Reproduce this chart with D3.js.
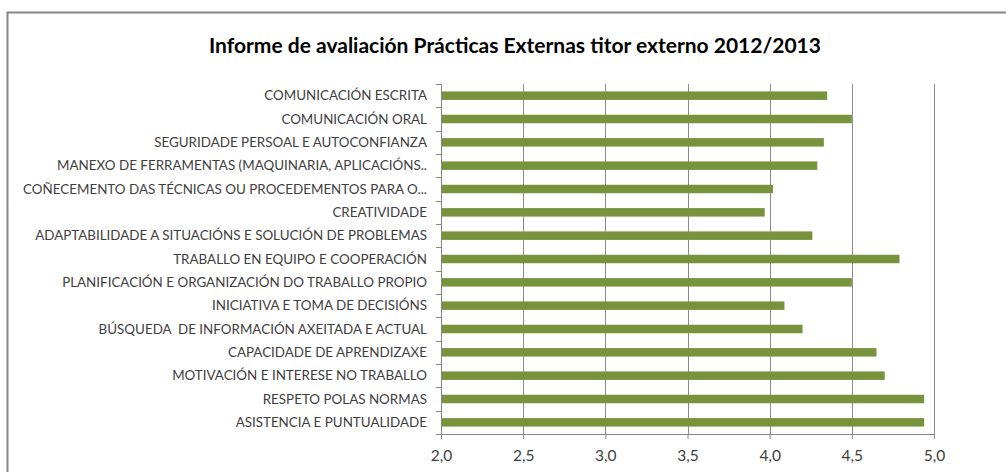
<!DOCTYPE html>
<html>
<head>
<meta charset="utf-8">
<script src="https://cdn.jsdelivr.net/npm/d3@7"></script>
<style>
  body { margin: 0; background: #fff; }
  svg { display: block; }
</style>
</head>
<body>
<div id="chart"></div>
<script>
// Data
const title = 'Informe de avaliación Prácticas Externas titor externo 2012/2013';
const categories = [
    'COMUNICACIÓN ESCRITA',
    'COMUNICACIÓN ORAL',
    'SEGURIDADE PERSOAL E AUTOCONFIANZA',
    'MANEXO DE FERRAMENTAS (MAQUINARIA, APLICACIÓNS..',
    'COÑECEMENTO DAS TÉCNICAS OU PROCEDEMENTOS PARA O...',
    'CREATIVIDADE',
    'ADAPTABILIDADE A SITUACIÓNS E SOLUCIÓN DE PROBLEMAS',
    'TRABALLO EN EQUIPO E COOPERACIÓN',
    'PLANIFICACIÓN E ORGANIZACIÓN DO TRABALLO PROPIO',
    'INICIATIVA E TOMA DE DECISIÓNS',
    'BÚSQUEDA  DE INFORMACIÓN AXEITADA E ACTUAL',
    'CAPACIDADE DE APRENDIZAXE',
    'MOTIVACIÓN E INTERESE NO TRABALLO',
    'RESPETO POLAS NORMAS',
    'ASISTENCIA E PUNTUALIDADE'
];
const values = [4.35, 4.50, 4.33, 4.29, 4.02, 3.97, 4.26, 4.79, 4.50, 4.09, 4.20, 4.65, 4.70, 4.94, 4.94];
const xTicks = [2.0, 2.5, 3.0, 3.5, 4.0, 4.5, 5.0];

// Layout
const width = 1006;
const height = 472;
const plot = { left: 441, right: 934, top: 84, bottom: 434 };
const font = 'Lato, "Open Sans", sans-serif';

const svg = d3.select('#chart')
    .append('svg')
    .attr('width', width)
    .attr('height', height);

// Chart frame (cut off at right and bottom like the screenshot)
svg.append('rect')
    .attr('x', 7.5)
    .attr('y', 12.5)
    .attr('width', width + 20)
    .attr('height', height + 20)
    .attr('fill', 'none')
    .attr('stroke', '#868686')
    .attr('stroke-width', 2);

// Title
svg.append('text')
    .attr('x', 515)
    .attr('y', 53)
    .attr('text-anchor', 'middle')
    .attr('font-family', font)
    .attr('font-weight', 'bold')
    .attr('font-size', '21px')
    .attr('fill', '#000')
    .text(title);

// Scales
const x = d3.scaleLinear()
    .domain([2, 5])
    .range([plot.left, plot.right]);

const y = d3.scaleBand()
    .domain(categories)
    .range([plot.top, plot.bottom])
    .paddingInner(0.636)
    .paddingOuter(0.318);

// Gridlines
svg.append('g')
    .selectAll('line')
    .data(xTicks.slice(1))
    .enter()
    .append('line')
    .attr('x1', d => Math.round(x(d)) + 0.5)
    .attr('x2', d => Math.round(x(d)) + 0.5)
    .attr('y1', plot.top)
    .attr('y2', plot.bottom)
    .attr('stroke', '#8c8c8c')
    .attr('stroke-width', 1);

// Bars
svg.append('g')
    .selectAll('rect')
    .data(values)
    .enter()
    .append('rect')
    .attr('x', x(2))
    .attr('y', (d, i) => y(categories[i]))
    .attr('width', d => x(d) - x(2))
    .attr('height', y.bandwidth())
    .attr('fill', '#77933c');

// X axis
const xAxis = d3.axisBottom(x)
    .tickValues(xTicks)
    .tickFormat(d => d3.format('.1f')(d).replace('.', ','))
    .tickSizeInner(5)
    .tickSizeOuter(0)
    .tickPadding(11);

const gx = svg.append('g')
    .attr('transform', `translate(0,${plot.bottom})`)
    .call(xAxis);
gx.select('.domain').attr('stroke', '#868686');
gx.selectAll('.tick line').attr('stroke', '#868686');
gx.selectAll('.tick text')
    .attr('font-family', font)
    .attr('font-size', '15.5px')
    .attr('fill', '#404040');

// Y axis line + category boundary ticks
svg.append('line')
    .attr('x1', plot.left + 0.5)
    .attr('x2', plot.left + 0.5)
    .attr('y1', plot.top)
    .attr('y2', plot.bottom)
    .attr('stroke', '#868686');

const step = y.step();
svg.append('g')
    .selectAll('line')
    .data(d3.range(categories.length + 1))
    .enter()
    .append('line')
    .attr('x1', plot.left - 5)
    .attr('x2', plot.left)
    .attr('y1', i => Math.round(plot.top + i * step) + 0.5)
    .attr('y2', i => Math.round(plot.top + i * step) + 0.5)
    .attr('stroke', '#868686');

// Category labels
svg.append('g')
    .selectAll('text')
    .data(categories)
    .enter()
    .append('text')
    .attr('x', 427)
    .attr('y', d => y(d) + y.bandwidth() / 2)
    .attr('dy', '0.35em')
    .attr('text-anchor', 'end')
    .attr('font-family', font)
    .attr('font-size', '13.4px')
    .attr('fill', '#404040')
    .style('white-space', 'pre')
    .text(d => d);
</script>
</body>
</html>
